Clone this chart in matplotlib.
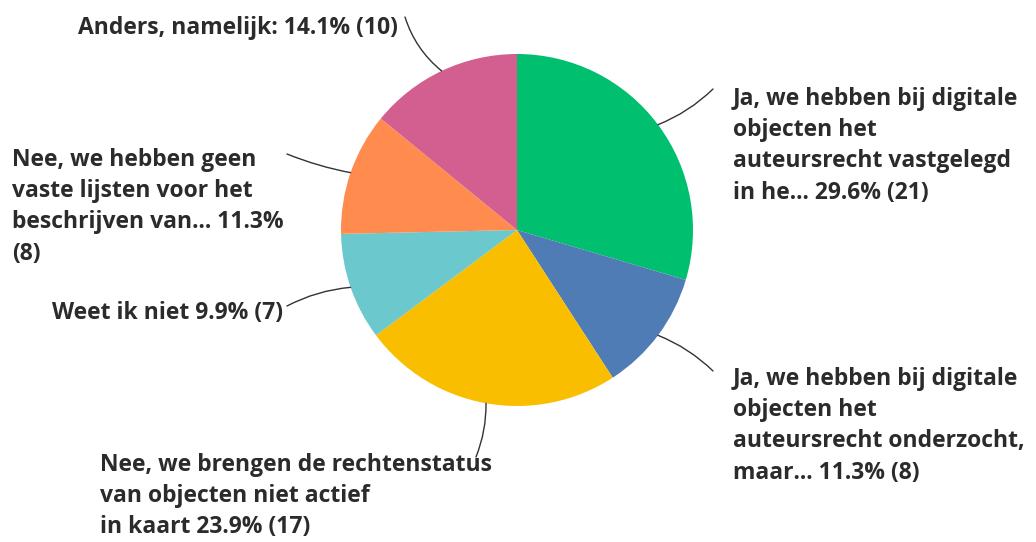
import numpy as np
import matplotlib
matplotlib.use("Agg")
import matplotlib.pyplot as plt

# answers (counts) and their colours, clockwise from 12 o'clock
labels = [
    "Ja, we hebben bij digitale\nobjecten het\nauteursrecht vastgelegd\nin he... 29.6% (21)",
    "Ja, we hebben bij digitale\nobjecten het\nauteursrecht onderzocht,\nmaar... 11.3% (8)",
    "Nee, we brengen de rechtenstatus\nvan objecten niet actief\nin kaart 23.9% (17)",
    "Weet ik niet 9.9% (7)",
    "Nee, we hebben geen\nvaste lijsten voor het\nbeschrijven van... 11.3%\n(8)",
    "Anders, namelijk: 14.1% (10)",
]
counts = [21, 8, 17, 7, 8, 10]
colors = ["#00BF6F", "#507CB6", "#F9BE00", "#6BC8CD", "#FF8B4F", "#D25F90"]

W, H = 1036, 542
cx, cy, r = 517, 230, 176

# label placement in pixel coords (x, y from top), alignment, and where the leader line ends
label_pos = [(733, 87, "left", "top"), (733, 367, "left", "top"), (100, 453, "left", "top"),
             (283, 313, "right", "center"), (12, 148, "left", "top"), (398, 28, "right", "center")]
line_end = [(713, 89), (713, 371), (476, 457), (287, 306), (287, 154), (405, 17)]
line_rad = [-0.1, 0.1, 0.1, -0.1, 0.05, 0.15]

plt.rcParams['font.family'] = ['Open Sans', 'DejaVu Sans']

fig = plt.figure(figsize=(W / 100, H / 100), dpi=100)
ax = fig.add_axes([0, 0, 1, 1])

wedges, _ = ax.pie(counts, colors=colors, startangle=90, counterclock=False,
                   center=(cx, H - cy), radius=r, frame=True)
ax.set_xlim(0, W)
ax.set_ylim(0, H)
ax.set_aspect("equal")
ax.axis("off")

total = sum(counts)
start = 90.0
for i, c in enumerate(counts):
    sweep = 360.0 * c / total
    mid = np.deg2rad(start - sweep / 2)
    start -= sweep
    px = cx + r * np.cos(mid)
    py = (H - cy) + r * np.sin(mid)
    ex, ey = line_end[i]
    ax.annotate("", xy=(px, py), xytext=(ex, H - ey),
                arrowprops=dict(arrowstyle="-", color="#333333", lw=1,
                                connectionstyle="arc3,rad=%s" % line_rad[i],
                                shrinkA=0, shrinkB=0))
    tx, ty, ha, va = label_pos[i]
    ax.text(tx, H - ty, labels[i], ha=ha, va=va, fontsize=16.5, fontweight="bold",
            color="#2b2b2b", linespacing=1.4)

fig.savefig("out.png", dpi=100)
